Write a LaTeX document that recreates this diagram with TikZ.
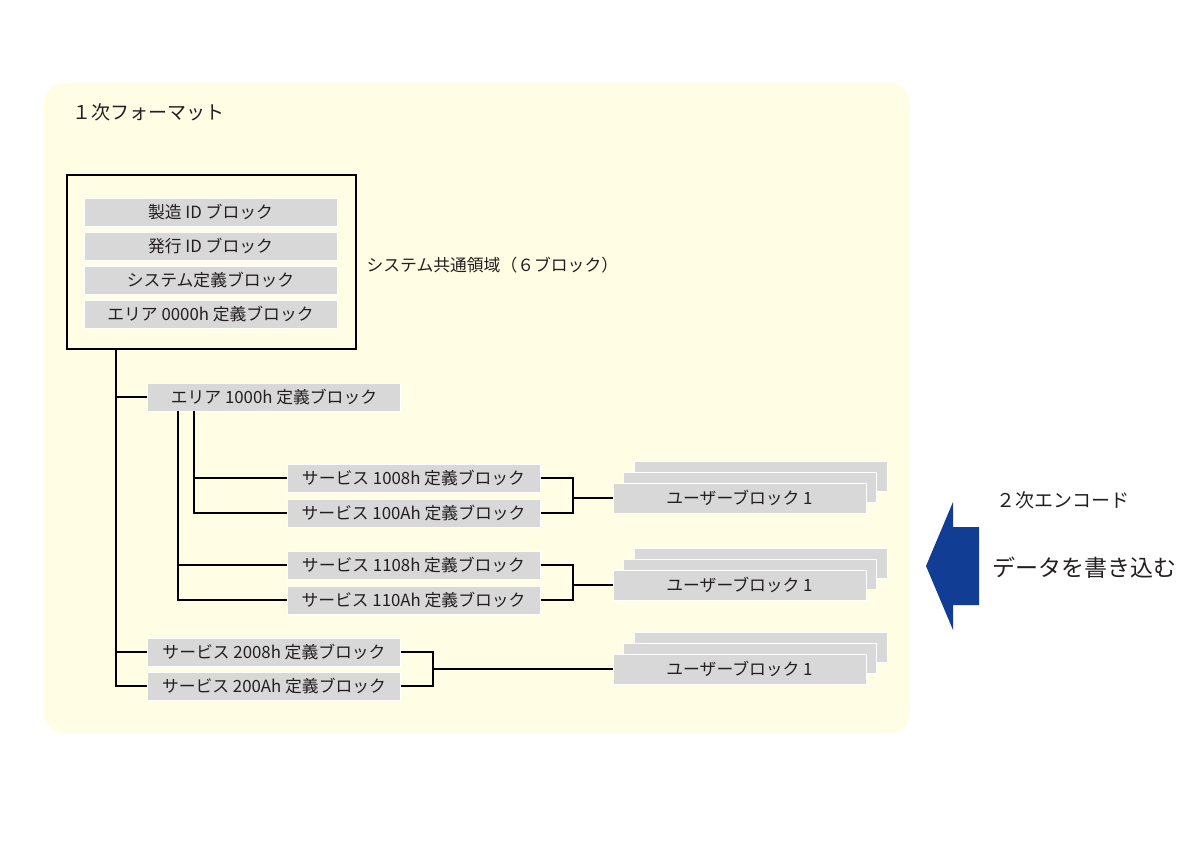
\documentclass[tikz,border=0pt]{standalone}
\usepackage{fontspec}
\setmainfont{Noto Sans CJK JP}
\usetikzlibrary{positioning}
\definecolor{panel}{RGB}{255,253,228}
\definecolor{blockgray}{RGB}{216,216,216}
\definecolor{arrowblue}{RGB}{17,61,148}
\definecolor{ink}{RGB}{35,31,32}
\tikzstyle{block} = [draw=white, line width=1pt, fill=blockgray, minimum height=28pt, minimum width=253pt, inner sep=0pt, text=ink, font=\fontsize{16.8}{18}\selectfont]
\tikzstyle{user} = [block, minimum height=30pt]
\tikzstyle{frame} = [draw=black, line width=1.3pt, minimum width=289pt, minimum height=174pt]
\tikzstyle{label} = [anchor=west, inner sep=0pt, text=ink, font=\fontsize{16.8}{18}\selectfont]
\tikzstyle{node} = [coordinate]

\begin{document}
\begin{tikzpicture}[x=1pt, y=-1pt, line width=1.2pt]
    \useasboundingbox (0,0) rectangle (1200,848);
    \fill [panel, rounded corners=20pt] (44,83) rectangle (910,733);
    \node [label, font=\fontsize{19}{22}\selectfont] (title) at (72,112) {１次フォーマット};

    % system common area
    \node [frame] (common) at (211.5,262) {};
    \node [block] (maker) at (210.5,212) {製造 ID ブロック};
    \node [block] (issue) at (210.5,246) {発行 ID ブロック};
    \node [block] (sysdef) at (210.5,280) {システム定義ブロック};
    \node [block] (area0) at (210.5,314) {エリア 0000h 定義ブロック};
    \node [label] (commonlabel) at (366,265) {システム共通領域（６ブロック）};

    \node [node] (trunk) at (116,349) {};
    \node [block] (area1) at (274,397) {エリア 1000h 定義ブロック};
    \node [block] (s2008) at (274,652) {サービス 2008h 定義ブロック};
    \node [block] (s200A) at (274,686) {サービス 200Ah 定義ブロック};
    \draw (trunk) |- (area1.west);
    \draw (trunk) |- (s2008.west);
    \draw (trunk) |- (s200A.west);

    \node [block] (s1008) at (413.5,478) {サービス 1008h 定義ブロック};
    \node [block] (s100A) at (413.5,513) {サービス 100Ah 定義ブロック};
    \node [block] (s1108) at (413.5,565) {サービス 1108h 定義ブロック};
    \node [block] (s110A) at (413.5,600) {サービス 110Ah 定義ブロック};
    \node [node] (tap1) at (194,411) {};
    \node [node] (tap2) at (178,411) {};
    \draw (tap1) |- (s1008.west);
    \draw (tap1) |- (s100A.west);
    \draw (tap2) |- (s1108.west);
    \draw (tap2) |- (s110A.west);

    % user blocks, stacked
    \foreach \name/\yy in {u1/498, u2/585, u3/669} {
        \node [user] (\name c) at (760.5,\yy-22) {};
        \node [user] (\name b) at (750,\yy-11) {};
        \node [user] (\name) at (739.5,\yy) {ユーザーブロック 1};
    }

    \node [node] (j1) at (573,498) {};
    \node [node] (j2) at (573,585) {};
    \node [node] (j3) at (433,669) {};
    \draw (s1008.east) -| (j1);
    \draw (s100A.east) -| (j1);
    \draw (j1) -- (u1.west);
    \draw (s1108.east) -| (j2);
    \draw (s110A.east) -| (j2);
    \draw (j2) -- (u2.west);
    \draw (s2008.east) -| (j3);
    \draw (s200A.east) -| (j3);
    \draw (j3) -- (u3.west);

    % second encode
    \fill [arrowblue] (926,566) -- (953,502) -- (953,527) -- (979,527) -- (979,605) -- (953,605) -- (953,630) -- cycle;
    \node [label, font=\fontsize{19}{22}\selectfont] (encode) at (996,500) {２次エンコード};
    \node [label, font=\fontsize{23}{26}\selectfont] (write) at (992,568) {データを書き込む};
\end{tikzpicture}
\end{document}
